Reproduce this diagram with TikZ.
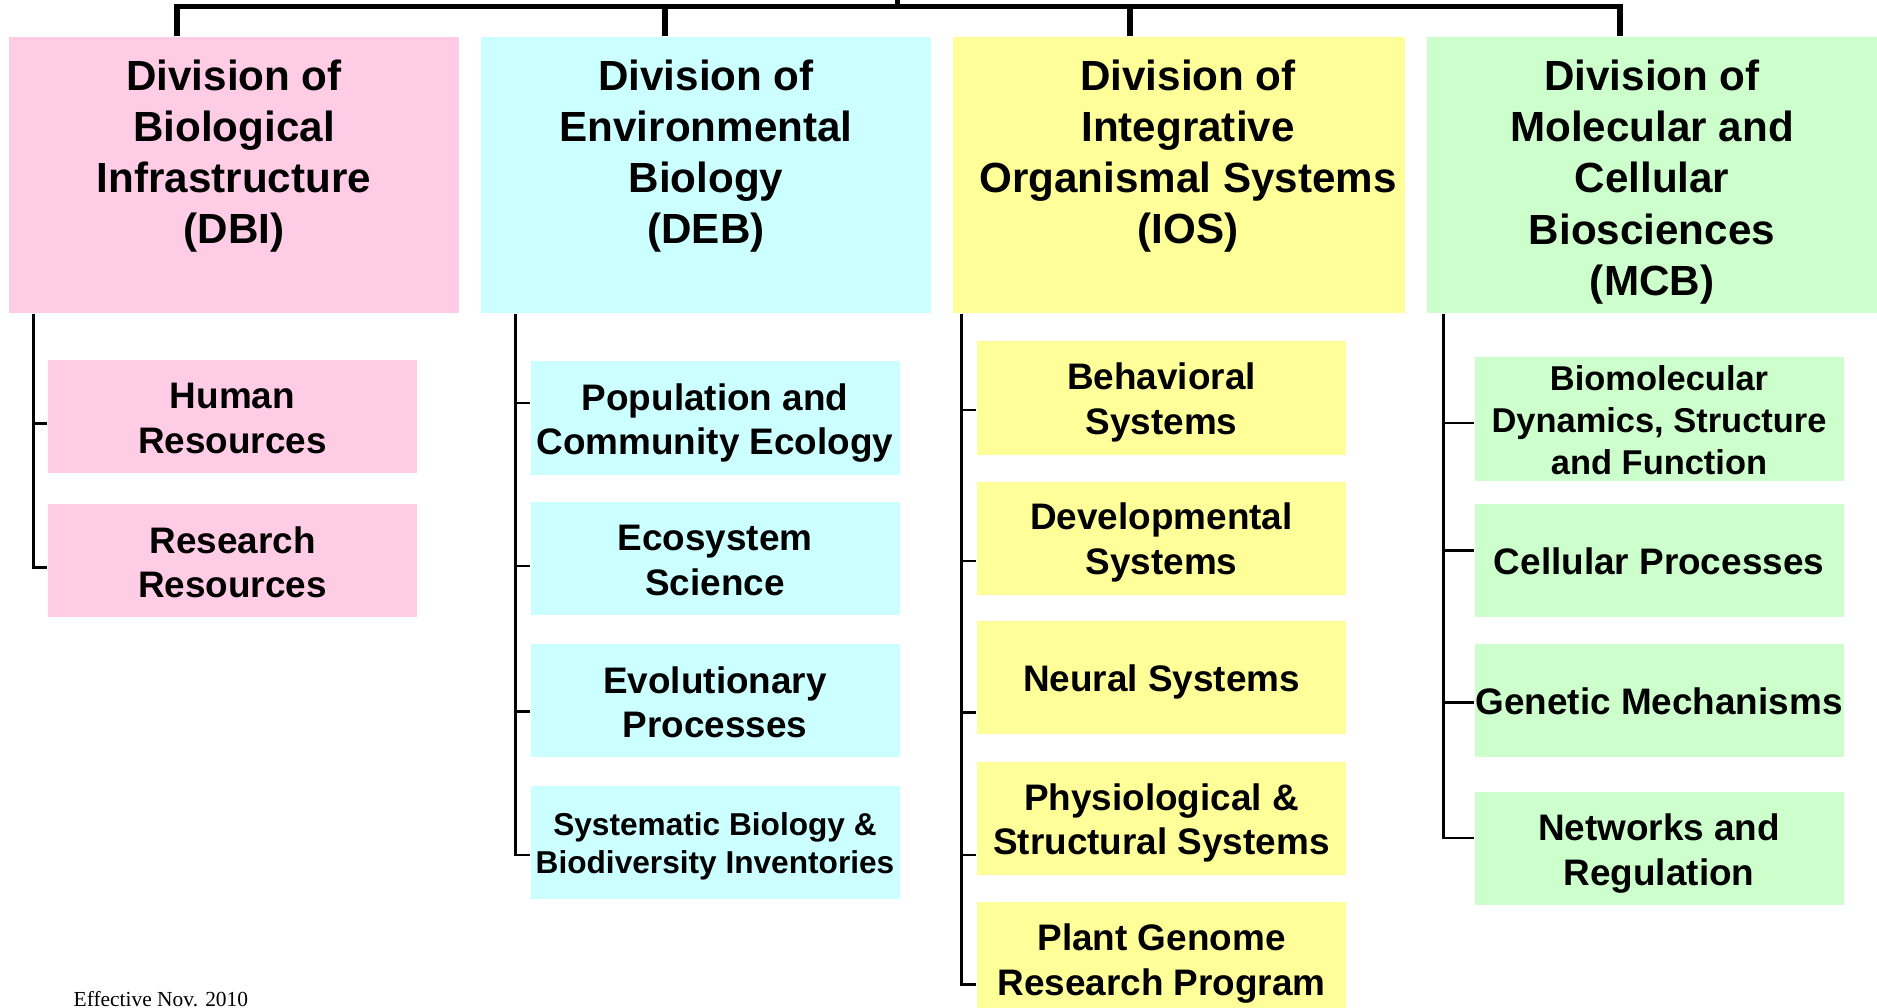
\documentclass[tikz,border=0pt]{standalone}
\usepackage{fontspec}
\setmainfont{Liberation Sans}
\newfontfamily\notefont{Liberation Serif}
\usetikzlibrary{positioning,calc}
\definecolor{dbipink}{RGB}{255,204,230}
\definecolor{debcyan}{RGB}{204,255,255}
\definecolor{iosyell}{RGB}{255,255,153}
\definecolor{mcbgreen}{RGB}{204,255,204}
\tikzset{
  div/.style   ={minimum width=4.5cm,minimum height=2.76cm,inner sep=0pt},
  divtxt/.style={align=center,inner sep=0pt,font=\fontsize{12}{14.6}\selectfont\bfseries},
  subbox/.style={minimum width=3.69cm,minimum height=1.13cm,inner sep=0pt},
  subtxt/.style={align=center,inner sep=0pt,font=\fontsize{10.5}{12.7}\selectfont\bfseries},
  trunk/.style ={line width=1.5pt},
  spine/.style ={line width=.8pt},
}
% programa: [estilo]{nome}{x}{y}{cor}{desvio do texto}{texto}
\newcommand{\prog}[7][]{%
  \node[subbox,fill=#5,#1] (#2) at (#3,#4) {};
  \node[subtxt,#1] (#2t) at ($(#2.center)+(0,#6)$) {#7};
}

\begin{document}
\begin{tikzpicture}
\useasboundingbox (0,0) rectangle (18.77,-10.08);

% ===================== DIVISOES =====================================
\node[div,fill=dbipink]  (dbi) at (2.34,-1.75)  {};
\node[div,fill=debcyan]  (deb) at (7.06,-1.75)  {};
\node[div,fill=iosyell,minimum width=4.52cm] (ios) at (11.79,-1.75) {};
\node[div,fill=mcbgreen] (mcb) at (16.52,-1.75) {};

\node[divtxt,below=0.225cm of dbi.north] (dbitxt) {Division of\\Biological\\Infrastructure\\(DBI)};
\node[divtxt,below=0.225cm of deb.north] (debtxt) {Division of\\Environmental\\Biology\\(DEB)};
\node[divtxt,below=0.225cm of ios.north,xshift=0.09cm] (iostxt) {Division of\\Integrative\\Organismal Systems\\(IOS)};
\node[divtxt,below=0.225cm of mcb.north] (mcbtxt) {Division of\\Molecular and\\Cellular\\Biosciences\\(MCB)};

% ===================== LIGACAO SUPERIOR =============================
\coordinate (hub) at (8.975,-0.067);
\draw[trunk] ([xshift=-0.57cm]dbi.north) |- (hub) -| ([xshift=-0.32cm]mcb.north);
\draw[trunk] ([xshift=-0.41cm]deb.north) -- ++(0,0.303);
\draw[trunk] ([xshift=-0.49cm]ios.north) -- ++(0,0.303);
\draw[trunk] (hub) -- ++(0,0.2);

% ===================== DBI ==========================================
\prog{hr}{2.325}{-4.165}{dbipink}{-0.018}{Human\\Resources}
\prog{rr}{2.325}{-5.605}{dbipink}{-0.018}{Research\\Resources}

\draw[spine] ($(dbi.south west)+(0.25,0)$) |- ([yshift=-0.07cm]rr.west);
\draw[spine] ([yshift=-0.07cm]hr.west) -- ++(-0.14,0);

% ===================== DEB ==========================================
\prog{pce}{7.15}{-4.18}{debcyan}{-0.05}{Population and\\Community Ecology}
\prog{es}{7.15}{-5.58}{debcyan}{-0.024}{Ecosystem\\Science}
\prog{ep}{7.15}{-7.005}{debcyan}{-0.018}{Evolutionary\\Processes}
\prog[font=\fontsize{9}{11}\selectfont\bfseries]{sbbi}{7.15}{-8.42}{debcyan}{-0.042}
  {Systematic Biology \&\\Biodiversity Inventories}

\draw[spine] ($(deb.south west)+(0.35,0)$) |- ([yshift=-0.13cm]sbbi.west);
\draw[spine] ([yshift=0.15cm]pce.west)  -- ++(-0.15,0);
\draw[spine] ([yshift=-0.08cm]es.west)  -- ++(-0.15,0);
\draw[spine] ([yshift=-0.11cm]ep.west)  -- ++(-0.15,0);

% ===================== IOS ==========================================
\prog{bs}{11.615}{-3.98}{iosyell}{-0.042}{Behavioral\\Systems}
\prog{ds}{11.615}{-5.38}{iosyell}{-0.042}{Developmental\\Systems}
\prog{ns}{11.615}{-6.775}{iosyell}{-0.048}{Neural Systems}
\prog{pss}{11.615}{-8.18}{iosyell}{-0.048}{Physiological \&\\Structural Systems}
\prog{pgrp}{11.615}{-9.585}{iosyell}{-0.048}{Plant Genome\\Research Program}

\draw[spine] ($(ios.south west)+(0.09,0)$) |- ([yshift=-0.26cm]pgrp.west);
\draw[spine] ([yshift=-0.12cm]bs.west)  -- ++(-0.15,0);
\draw[spine] ([yshift=-0.23cm]ds.west)  -- ++(-0.15,0);
\draw[spine] ([yshift=-0.35cm]ns.west)  -- ++(-0.15,0);
\draw[spine] ([yshift=-0.37cm]pss.west) -- ++(-0.15,0);

% ===================== MCB ==========================================
\prog[minimum height=1.24cm,font=\fontsize{9.8}{11.9}\selectfont\bfseries]{bdsf}{16.59}{-4.19}{mcbgreen}{-0.012}
  {Biomolecular\\Dynamics, Structure\\and Function}
\prog{cp}{16.59}{-5.605}{mcbgreen}{-0.012}{Cellular Processes}
\prog{gm}{16.59}{-7.005}{mcbgreen}{-0.012}{Genetic Mechanisms}
\prog{nr}{16.59}{-8.48}{mcbgreen}{-0.054}{Networks and\\Regulation}

\draw[spine] ($(mcb.south west)+(0.17,0)$) |- ([yshift=0.10cm]nr.west);
\draw[spine] ([yshift=-0.04cm]bdsf.west) -- ++(-0.30,0);
\draw[spine] ([yshift=0.10cm]cp.west)    -- ++(-0.30,0);
\draw[spine] ([yshift=-0.02cm]gm.west)   -- ++(-0.30,0);

\node[anchor=base west,inner sep=0pt,font=\notefont\fontsize{6.1}{7}\selectfont] (eff) at (0.73,-10.06) {Effective Nov. 2010};

\end{tikzpicture}
\end{document}
